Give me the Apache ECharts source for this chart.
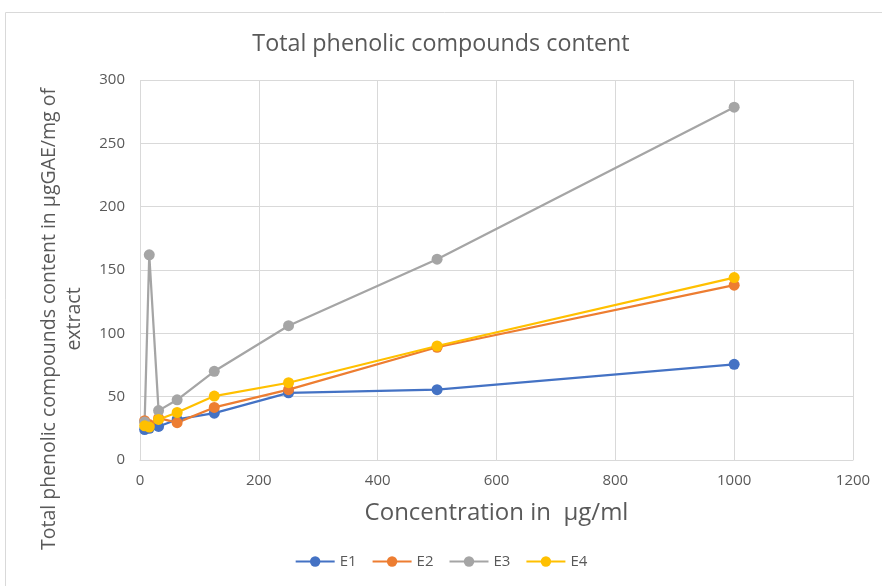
<!DOCTYPE html>
<html>
<head>
<meta charset="utf-8">
<script src="https://cdn.jsdelivr.net/npm/echarts@6/dist/echarts.min.js"></script>
<style>
  html, body { margin: 0; padding: 0; background: #fff; }
  #chart { width: 882px; height: 586px; }
</style>
</head>
<body>
<div id="chart"></div>
<script>
// concentrations (µg/ml)
var conc = [7.8, 15.6, 31.25, 62.5, 125, 250, 500, 1000];

var e1 = [24, 25, 26.5, 32, 37, 53, 55.5, 75.5];
var e2 = [31, 28, 33, 29.5, 41.5, 55.5, 89, 138];
var e3 = [30, 162, 39, 47.5, 70, 106, 158.5, 278.5];
var e4 = [27, 26, 32, 37.5, 50.5, 61, 90, 144];

var seriesNames = ['E1', 'E2', 'E3', 'E4'];
var seriesVals = [e1, e2, e3, e4];
var colors = ['#4472C4', '#ED7D31', '#A5A5A5', '#FFC000'];

function pairs(vals) {
  var out = [];
  for (var i = 0; i < conc.length; i++) out.push([conc[i], vals[i]]);
  return out;
}

var txt = '#595959';
var font = 'Open Sans';

var series = [];
for (var i = 0; i < seriesNames.length; i++) {
  series.push({
    name: seriesNames[i],
    type: 'line',
    data: pairs(seriesVals[i]),
    symbol: 'circle',
    symbolSize: 11,
    lineStyle: { width: 2.25 },
    itemStyle: { color: colors[i] },
    emphasis: { disabled: true }
  });
}

var myChart = echarts.init(document.getElementById('chart'));
myChart.setOption({
  animation: false,
  color: colors,
  textStyle: { fontFamily: font },
  title: {
    text: 'Total phenolic compounds content',
    left: 'center',
    top: 28,
    textStyle: { fontFamily: font, fontSize: 23.3, fontWeight: 'normal', color: txt }
  },
  grid: { left: 140, right: 29, top: 80, bottom: 126 },
  legend: {
    data: seriesNames,
    bottom: 12,
    left: 'center',
    itemWidth: 39,
    itemHeight: 13,
    itemGap: 15,
    textStyle: { fontSize: 15, color: txt }
  },
  xAxis: {
    type: 'value',
    min: 0, max: 1200, interval: 200,
    name: 'Concentration in  µg/ml',
    nameLocation: 'middle',
    nameGap: 41,
    nameTextStyle: { fontSize: 24, color: txt },
    axisLine: { lineStyle: { color: '#d9d9d9' } },
    axisTick: { show: false },
    axisLabel: { color: txt, fontSize: 15, margin: 13, formatter: function (v) { return String(v); } },
    splitLine: { show: true, lineStyle: { color: '#d9d9d9', width: 1 } }
  },
  yAxis: {
    type: 'value',
    min: 0, max: 300, interval: 50,
    name: 'Total phenolic compounds content in µgGAE/mg of\nextract',
    nameLocation: 'middle',
    nameRotate: 90,
    nameGap: 53,
    nameTextStyle: { fontSize: 19.5, color: txt, lineHeight: 25, padding: [0, 0, 0, -98] },
    axisLine: { show: false },
    axisTick: { show: false },
    axisLabel: { color: txt, fontSize: 15, margin: 15 },
    splitLine: { lineStyle: { color: '#d9d9d9', width: 1 } }
  },
  graphic: [{
    type: 'rect',
    shape: { x: 5.5, y: 12.5, width: 900, height: 600 },
    style: { fill: 'none', stroke: '#d9d9d9', lineWidth: 1 },
    silent: true,
    z: -1
  }],
  series: series
});
</script>
</body>
</html>
